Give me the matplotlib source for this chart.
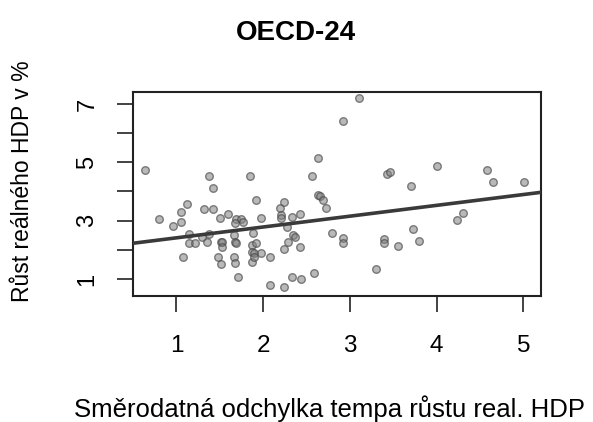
import matplotlib
matplotlib.use("Agg")
import matplotlib.pyplot as plt
import numpy as np

plt.rcParams['font.family'] = ['Liberation Sans', 'DejaVu Sans']

title = "OECD-24"
xlabel = "Směrodatná odchylka tempa růstu real. HDP"
ylabel = "Růst reálného HDP v %"

sd_growth = [0.64, 0.80, 0.96, 1.05, 1.05, 1.12, 1.07, 1.15, 1.14, 1.21,
             1.32, 1.42, 1.37, 1.42, 1.29, 1.35, 1.38, 1.48, 1.51, 1.51,
             1.53, 1.53, 1.50, 1.60, 1.66, 1.67, 1.69, 1.66, 1.67, 1.71,
             1.69, 1.75, 1.67, 1.77, 1.85, 1.92, 1.88, 1.87, 1.92, 1.87,
             1.89, 1.98, 2.08, 1.87, 1.98, 2.08, 2.19, 2.24, 2.21, 2.20,
             2.33, 2.42, 2.27, 2.29, 2.24, 2.34, 2.37, 2.42, 2.24, 2.33,
             2.44, 2.59, 2.56, 2.63, 2.63, 2.65, 2.69, 2.72, 2.79, 2.92,
             2.92, 2.92, 3.11, 3.43, 3.46, 3.71, 3.39, 3.39, 3.55, 3.73,
             3.80, 3.30, 4.01, 4.58, 4.65, 5.01, 4.30, 4.23, 1.89]
gdp_growth = [4.74, 3.05, 2.83, 3.31, 2.96, 3.58, 1.74, 2.54, 2.22, 2.22,
              3.39, 3.39, 4.54, 4.13, 2.45, 2.28, 2.54, 1.74, 1.51, 2.28,
              2.26, 2.11, 3.08, 3.23, 2.51, 2.28, 2.22, 1.76, 1.56, 1.06,
              3.05, 3.05, 2.93, 2.96, 4.54, 3.71, 2.59, 2.17, 2.22, 1.94,
              1.88, 1.88, 1.74, 1.59, 3.08, 0.79, 3.44, 3.65, 3.19, 3.08,
              3.12, 3.23, 2.79, 2.28, 2.02, 2.51, 2.45, 2.11, 0.72, 1.06,
              0.99, 1.22, 4.54, 5.16, 3.88, 3.85, 3.71, 3.44, 2.57, 2.42,
              2.22, 6.43, 7.19, 4.60, 4.66, 4.20, 2.37, 2.22, 2.14, 2.71,
              2.30, 1.34, 4.87, 4.74, 4.33, 4.33, 3.25, 3.02, 1.76]

fit_intercept = 2.04
fit_slope = 0.371

x_ticks = [1, 2, 3, 4, 5]
y_ticks = [1, 2, 3, 4, 5, 6, 7]
y_ticklabels = ["1", "", "3", "", "5", "", "7"]

fig = plt.figure(figsize=(5.93, 4.22), dpi=100)
ax = fig.add_axes([132.5/593, 1-296/422, (541-132.5)/593, (296-91.7)/422])

ax.scatter(sd_growth, gdp_growth, s=30, facecolor=(0.5, 0.5, 0.5, 0.55),
           edgecolor=(0.28, 0.28, 0.28, 0.65), linewidths=1.0, zorder=3)

ax.set_xlim(0.493, 5.204)
ax.set_ylim(0.417, 7.42)
ax.axline((0, fit_intercept), slope=fit_slope, color='#3a3a3a', lw=2.6, zorder=4)

ax.set_xticks(x_ticks)
ax.set_xticklabels([str(t) for t in x_ticks], fontsize=17.5)
ax.set_yticks(y_ticks)
ax.set_yticklabels(y_ticklabels, fontsize=17, rotation=90, va='center')
ax.tick_params(axis='both', direction='out', length=11.5, width=1.2, color='#222222')
ax.tick_params(axis='x', pad=16.5)
ax.tick_params(axis='y', pad=13)
for s in ax.spines.values():
    s.set_linewidth(1.5)
    s.set_color('#222222')

fig.text(296/593, 1-33/422, title, ha='center', va='center', fontsize=20, fontweight='bold')
fig.text(330/593, 1-409/422, xlabel, ha='center', va='center', fontsize=18.5)
fig.text(23/593, 1-181/422, ylabel, ha='center', va='center', rotation=90, fontsize=16.5)

fig.savefig("out.png", dpi=100)
